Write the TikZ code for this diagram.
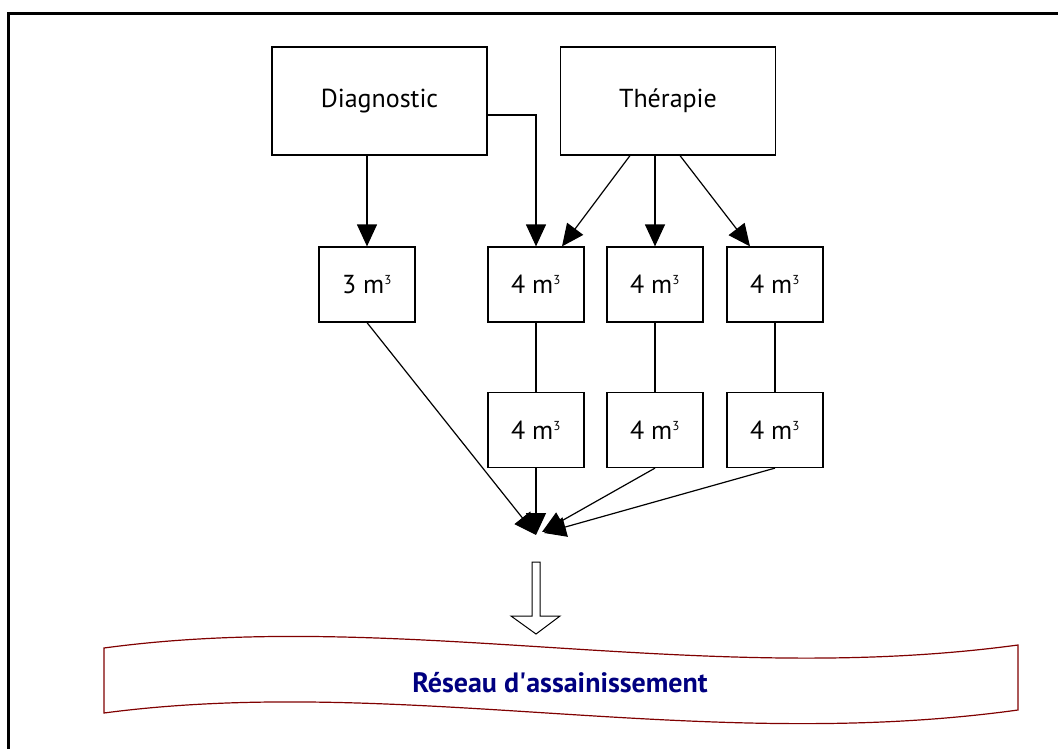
\documentclass[tikz,border=0pt]{standalone}
\usepackage{fontspec}
\setmainfont{PT Sans}
\usetikzlibrary{arrows.meta}
\definecolor{bordeaux}{RGB}{128,0,0}
\definecolor{marine}{RGB}{0,0,128}
\newcommand{\mcube}{m\textsuperscript{\fontsize{13}{14}\selectfont 3}}

\begin{document}
\begin{tikzpicture}[x=1pt,y=-1pt,
		box/.style={draw,line width=1.2pt,inner sep=0pt,font=\fontsize{26}{30}\selectfont},
		gros/.style={box,minimum width=215pt,minimum height=108pt},
		cuve/.style={box,minimum width=96pt,minimum height=75pt},
		fl/.style={line width=1.2pt,-{Triangle[length=22pt,width=20pt]}}]
		\useasboundingbox (0,0) rectangle (1058,749);
		% cadre
		\draw[line width=3pt] (8,749) -- (8,14) -- (1058,14);

		% traitements
		\node[gros] (diag) at (379.5,101) {Diagnostic};
		\node[gros] (thera) at (668,101) {Thérapie};

		% cuves
		\node[cuve] (d1) at (367,284.5) {3 \mcube};
		\node[cuve] (t1a) at (536,284.5) {4 \mcube};
		\node[cuve] (t2a) at (655,284.5) {4 \mcube};
		\node[cuve] (t3a) at (775,284.5) {4 \mcube};
		\node[cuve] (t1b) at (536,430) {4 \mcube};
		\node[cuve] (t2b) at (655,430) {4 \mcube};
		\node[cuve] (t3b) at (775,430) {4 \mcube};
		\coordinate (puits) at (536,535);

		\draw[fl] (d1.north |- diag.south) -- (d1.north);
		\draw[fl] ([yshift=-14pt]diag.east) -| (t1a.north);
		\draw[fl] ([xshift=-38pt]thera.south) -- ([xshift=26pt]t1a.north);
		\draw[fl] (t2a.north |- thera.south) -- (t2a.north);
		\draw[fl] ([xshift=12pt]thera.south) -- ([xshift=-25pt]t3a.north);

		\draw[line width=1.2pt] (t1a) -- (t1b);
		\draw[line width=1.2pt] (t2a) -- (t2b);
		\draw[line width=1.2pt] (t3a) -- (t3b);

		% vers le puits
		\draw[fl] (d1.south) -- (puits);
		\draw[fl] (t1b.south) -- (puits);
		\draw[fl] (t2b.south) -- ([xshift=6pt,yshift=3pt]puits);
		\draw[fl] (t3b.south) -- ([xshift=8pt,yshift=2pt]puits);

		% fleche creuse
		\draw[line width=1pt,fill=white] (532,562) -- (540,562) -- (540,616) -- (560,616)
			-- (536,634) -- (511,616) -- (532,616) -- cycle;

		% bandeau
		\draw[line width=1.2pt,draw=bordeaux,fill=white] (104,648) .. controls (400,608) and (700,688) .. (1018,645)
			-- (1018,710) .. controls (700,754) and (400,674) .. (104,713) -- cycle;
		\node[font=\fontsize{28}{32}\selectfont\bfseries,text=marine] (reseau) at (560,683) {Réseau d\textquotesingle assainissement};
	\end{tikzpicture}
\end{document}
